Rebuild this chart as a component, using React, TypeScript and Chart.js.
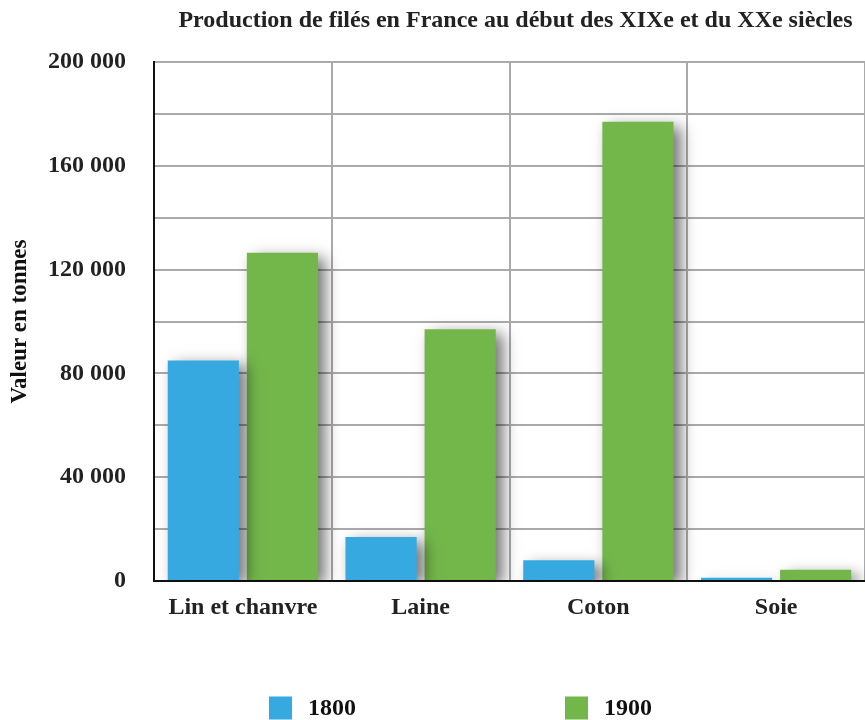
import React, { useEffect, useRef } from "react";
import { Chart, registerables } from "chart.js";

Chart.register(...registerables);

const categories = ["Lin et chanvre", "Laine", "Coton", "Soie"];
const seriesLabels = ["1800", "1900"];
const values1800 = [85000, 17000, 8000, 1300];
const values1900 = [126500, 97000, 177000, 4300];
const yMax = 200000;
const yStep = 20000;
const yLabelStep = 40000;
const titleText = "Production de filés en France au début des XIXe et du XXe siècles";
const yAxisTitle = "Valeur en tonnes";

const COLORS = ["#36a9e1", "#73b74b"];
const FONT = "'Liberation Serif', 'Times New Roman', serif";

const fmt = (v: number) => String(v).replace(/\B(?=(\d{3})+(?!\d))/g, " ");

const shadowPlugin = {
  id: "barShadow",
  beforeDatasetsDraw(chart: any) {
    const ctx = chart.ctx;
    ctx.save();
    ctx.shadowColor = "rgba(0,0,0,0.55)";
    ctx.shadowBlur = 14;
    ctx.shadowOffsetX = 7;
    ctx.shadowOffsetY = 5;
  },
  afterDatasetsDraw(chart: any) {
    chart.ctx.restore();
  },
};

const titlePlugin = {
  id: "customTitle",
  afterDraw(chart: any) {
    const ctx = chart.ctx;
    const a = chart.chartArea;
    ctx.save();
    ctx.fillStyle = "#222";
    ctx.font = `bold 24px ${FONT}`;
    ctx.textAlign = "center";
    ctx.textBaseline = "middle";
    ctx.fillText(titleText, (a.left + a.right) / 2 + 6, 21);
    ctx.restore();
  },
};

const legendPlugin = {
  id: "customLegend",
  afterDraw(chart: any) {
    const ctx = chart.ctx;
    const a = chart.chartArea;
    const x0 = a.left + 115;
    const gap = 296;
    const y = 708;
    const box = 23;
    ctx.save();
    chart.data.datasets.forEach((ds: any, i: number) => {
      const x = x0 + i * gap;
      ctx.fillStyle = ds.backgroundColor;
      ctx.fillRect(x, y - box / 2, box, box);
      ctx.fillStyle = "#111";
      ctx.font = `bold 24px ${FONT}`;
      ctx.textAlign = "left";
      ctx.textBaseline = "middle";
      ctx.fillText(ds.label, x + box + 16, y + 1);
    });
    ctx.restore();
  },
};

export default function App() {
  const ref = useRef<HTMLCanvasElement | null>(null);

  useEffect(() => {
    if (!ref.current) return;
    const chart = new Chart(ref.current, {
      type: "bar",
      data: {
        labels: categories,
        datasets: [
          { label: seriesLabels[0], data: values1800, backgroundColor: COLORS[0] },
          { label: seriesLabels[1], data: values1900, backgroundColor: COLORS[1] },
        ],
      },
      options: {
        responsive: false,
        animation: false,
        devicePixelRatio: 1,
        layout: { padding: { top: 62, right: 0, bottom: 0, left: 0 } },
        datasets: {
          bar: { categoryPercentage: 0.89, barPercentage: 0.9 },
        } as any,
        plugins: {
          legend: { display: false },
          title: { display: false },
          tooltip: { enabled: false },
        },
        scales: {
          x: {
            grid: { color: "#aaaaaa", lineWidth: 2, drawTicks: false, offset: true },
            border: { color: "#111", width: 2 },
            ticks: {
              color: "#222",
              font: { family: FONT, size: 24, weight: "bold" },
              padding: 12,
              maxRotation: 0,
            },
            afterFit: (s: any) => {
              s.height = 139;
            },
          },
          y: {
            min: 0,
            max: yMax,
            grid: { color: "#aaaaaa", lineWidth: 2, drawTicks: false },
            border: { color: "#111", width: 2 },
            ticks: {
              stepSize: yStep,
              color: "#222",
              font: { family: FONT, size: 24, weight: "bold" },
              padding: 28,
              callback: (v: any) => (Number(v) % yLabelStep === 0 ? fmt(Number(v)) : ""),
            },
            title: {
              display: true,
              text: yAxisTitle,
              color: "#111",
              font: { family: FONT, size: 23, weight: "bold" },
              padding: { top: 6, bottom: 0 },
            },
            afterFit: (s: any) => {
              s.width = 154;
            },
          },
        },
      },
      plugins: [shadowPlugin, titlePlugin, legendPlugin],
    });
    return () => chart.destroy();
  }, []);

  return (
    <div style={{ position: "fixed", left: 0, top: 0, width: 865, height: 720, background: "#fff" }}>
      <canvas ref={ref} width={865} height={720} style={{ display: "block" }} />
    </div>
  );
}
